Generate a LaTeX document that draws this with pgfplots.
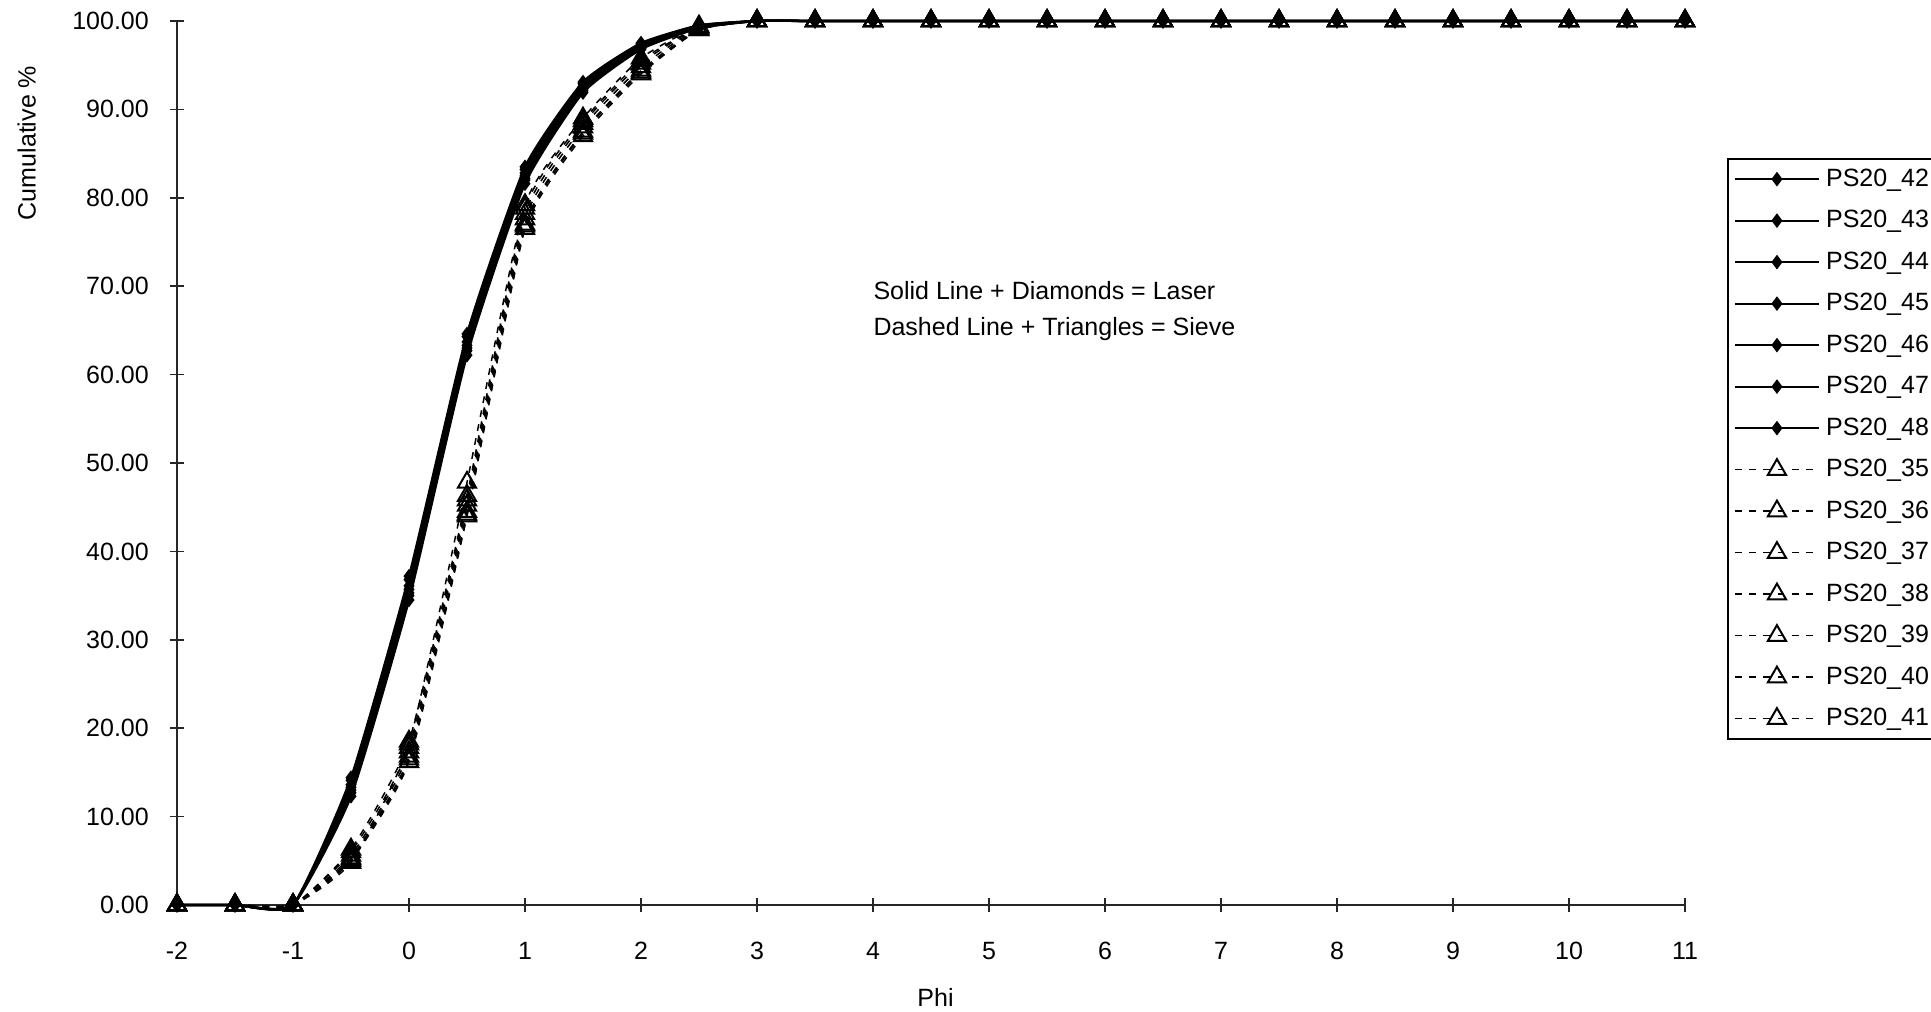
\documentclass[border=0pt]{standalone}
\usepackage{fontspec}
\setmainfont{Liberation Sans}
\usepackage{pgfplots}
\usepackage{pgfplotstable}
\pgfplotsset{compat=1.18}

\pgfplotstableread{
x    s42   s43   s44   s45   s46   s47   s48
-2   0     0     0     0     0     0     0
-1.5 0     0     0     0     0     0     0
-1   0     0     0     0     0     0     0
-0.5 12.3  13.0  13.6  14.1  12.7  13.3  14.4
0    34.5  35.3  36.1  36.8  35.0  35.7  37.2
0.5  62.2  63.0  63.7  64.3  62.7  63.3  64.6
1    81.6  82.2  82.8  83.2  82.0  82.5  83.5
1.5  91.9  92.3  92.6  92.9  92.1  92.4  93.1
2    96.8  97.0  97.2  97.4  96.9  97.1  97.5
2.5  99.2  99.3  99.4  99.5  99.2  99.3  99.5
3    100   100   100   100   100   100   100
3.5  100   100   100   100   100   100   100
4    100   100   100   100   100   100   100
4.5  100   100   100   100   100   100   100
5    100   100   100   100   100   100   100
5.5  100   100   100   100   100   100   100
6    100   100   100   100   100   100   100
6.5  100   100   100   100   100   100   100
7    100   100   100   100   100   100   100
7.5  100   100   100   100   100   100   100
8    100   100   100   100   100   100   100
8.5  100   100   100   100   100   100   100
9    100   100   100   100   100   100   100
9.5  100   100   100   100   100   100   100
10   100   100   100   100   100   100   100
10.5 100   100   100   100   100   100   100
11   100   100   100   100   100   100   100
}\laser

\pgfplotstableread{
x    s35   s36   s37   s38   s39   s40   s41
-2   0     0     0     0     0     0     0
-1.5 0     0     0     0     0     0     0
-1   0     0     0     0     0     0     0
-0.5 5.0   5.3   5.6   6.0   4.8   5.2   6.3
0    16.2  16.8  17.3  17.8  18.2  16.5  18.5
0.5  44.0  44.5  45.2  45.8  47.8  44.2  46.3
1    76.5  77.0  77.6  78.2  79.2  76.8  78.8
1.5  87.0  87.5  88.0  88.4  89.0  87.3  88.7
2    94.0  94.4  94.8  95.2  95.8  94.2  95.5
2.5  99.0  99.1  99.2  99.3  99.4  99.0  99.3
3    100   100   100   100   100   100   100
3.5  100   100   100   100   100   100   100
4    100   100   100   100   100   100   100
4.5  100   100   100   100   100   100   100
5    100   100   100   100   100   100   100
5.5  100   100   100   100   100   100   100
6    100   100   100   100   100   100   100
6.5  100   100   100   100   100   100   100
7    100   100   100   100   100   100   100
7.5  100   100   100   100   100   100   100
8    100   100   100   100   100   100   100
8.5  100   100   100   100   100   100   100
9    100   100   100   100   100   100   100
9.5  100   100   100   100   100   100   100
10   100   100   100   100   100   100   100
10.5 100   100   100   100   100   100   100
11   100   100   100   100   100   100   100
}\sieve

\pgfplotsset{
  laserstyle/.style={black, line width=0.9bp, smooth, tension=0.3,
    mark=diamond*, mark size=2.2bp, mark options={solid, fill=black}},
  sievestyle/.style={black, line width=0.6bp, smooth, tension=0.3,
    dash pattern=on 2.7bp off 3bp,
    mark=triangle, mark size=4.2bp, mark options={solid, fill=white, line width=0.8bp}},
}

\begin{document}
\fontsize{10bp}{12bp}\selectfont
\begin{tikzpicture}
\begin{axis}[
  at={(70.8bp,42.8bp)}, anchor=south west,
  scale only axis,
  width=603.2bp, height=353.6bp,
  xmin=-2, xmax=11, ymin=0, ymax=100,
  clip=false,
  axis lines=left,
  axis line style={-, line width=0.6bp, black!85},
  tick align=center,
  major tick length=5.5bp,
  tick style={line width=0.6bp, black!85},
  xtick={-2,-1,0,1,2,3,4,5,6,7,8,9,10,11},
  xticklabels={-2,-1,0,1,2,3,4,5,6,7,8,9,10,11},
  ytick={0,10,20,30,40,50,60,70,80,90,100},
  yticklabels={0.00,10.00,20.00,30.00,40.00,50.00,60.00,70.00,80.00,90.00,100.00},
  xticklabel style={font=\fontsize{10bp}{12bp}\selectfont, yshift=-8.5bp},
  yticklabel style={font=\fontsize{10bp}{12bp}\selectfont, xshift=-5bp},
  xlabel={Phi},
  ylabel={Cumulative \%},
  xlabel style={at={(axis description cs:0.503,-0.1046)}, anchor=center, font=\fontsize{10bp}{12bp}\selectfont},
  ylabel style={at={(axis description cs:-0.0996,0.862)}, anchor=center, rotate=0, font=\fontsize{10bp}{12bp}\selectfont},
  legend cell align=left,
  legend image code/.code={\draw[mark repeat=2,mark phase=2,#1] plot coordinates {(0bp,0bp) (16.8bp,0bp) (33.6bp,0bp)};},
  legend style={at={(1.0279,0.845)}, anchor=north west, draw=black, line width=0.6bp,
    font=\fontsize{10bp}{12bp}\selectfont,
    inner xsep=2.4bp, inner ysep=3.5bp, row sep=7.3bp, column sep=2.4bp,
    nodes={inner sep=0pt, text height=7.4bp, text depth=1.9bp}},
]
\addplot[laserstyle] table[x=x, y=s42] {\laser};
\addlegendentry{PS20\_42}
\addplot[laserstyle] table[x=x, y=s43] {\laser};
\addlegendentry{PS20\_43}
\addplot[laserstyle] table[x=x, y=s44] {\laser};
\addlegendentry{PS20\_44}
\addplot[laserstyle] table[x=x, y=s45] {\laser};
\addlegendentry{PS20\_45}
\addplot[laserstyle] table[x=x, y=s46] {\laser};
\addlegendentry{PS20\_46}
\addplot[laserstyle] table[x=x, y=s47] {\laser};
\addlegendentry{PS20\_47}
\addplot[laserstyle] table[x=x, y=s48] {\laser};
\addlegendentry{PS20\_48}
\addplot[sievestyle] table[x=x, y=s35] {\sieve};
\addlegendentry{PS20\_35}
\addplot[sievestyle] table[x=x, y=s36] {\sieve};
\addlegendentry{PS20\_36}
\addplot[sievestyle] table[x=x, y=s37] {\sieve};
\addlegendentry{PS20\_37}
\addplot[sievestyle] table[x=x, y=s38] {\sieve};
\addlegendentry{PS20\_38}
\addplot[sievestyle] table[x=x, y=s39] {\sieve};
\addlegendentry{PS20\_39}
\addplot[sievestyle] table[x=x, y=s40] {\sieve};
\addlegendentry{PS20\_40}
\addplot[sievestyle] table[x=x, y=s41] {\sieve};
\addlegendentry{PS20\_41}
\node[anchor=west, align=left, inner sep=0pt, font=\fontsize{10bp}{14.4bp}\selectfont]
  at (axis cs:4.0,67.2) {Solid Line + Diamonds = Laser\\Dashed Line + Triangles = Sieve};
\end{axis}
\pgfresetboundingbox
\path[use as bounding box] (0bp,0bp) rectangle (772.4bp,404.8bp);
\end{tikzpicture}
\end{document}
